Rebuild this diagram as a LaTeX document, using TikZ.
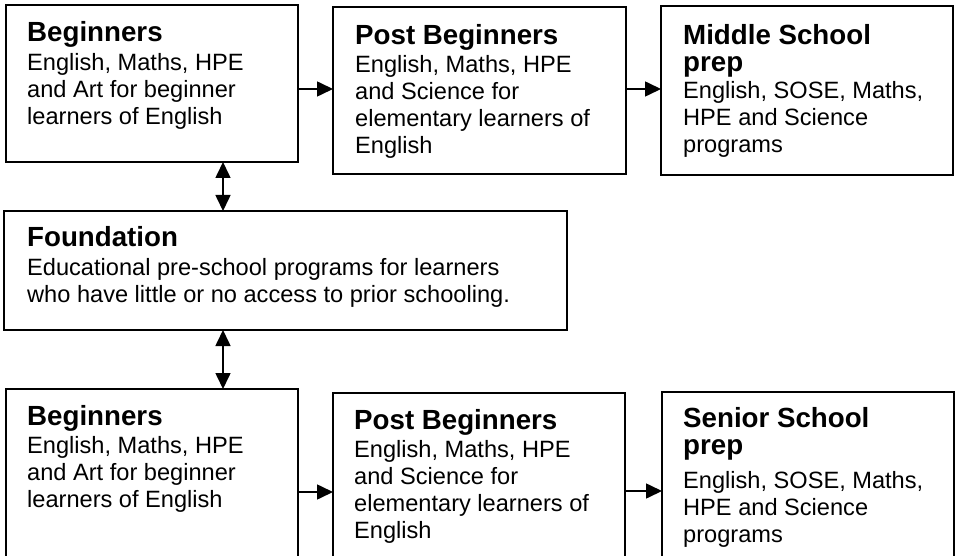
\documentclass[tikz,border=0pt]{standalone}
\usepackage{fontspec}
\setmainfont{Liberation Sans}
\usetikzlibrary{arrows.meta}
\tikzset{
  box/.style={draw, line width=2pt, inner sep=0pt, outer sep=0pt, anchor=north west},
  ttl/.style={anchor=base west, inner sep=0pt, font=\fontsize{27.7pt}{27.5pt}\selectfont\bfseries},
  bdy/.style={anchor=base west, inner sep=0pt, font=\fontsize{23.6pt}{27pt}\selectfont},
  arr/.style={line width=1.6pt, -{Triangle[length=16pt,width=15pt]}},
  darr/.style={line width=1.6pt, {Triangle[length=16pt,width=15pt]}-{Triangle[length=16pt,width=15pt]}},
}
\begin{document}
\begin{tikzpicture}[x=1pt,y=1pt]
\useasboundingbox (0,0) rectangle (955,-556);
\clip (0,0) rectangle (955,-556);
% boxes
\node[box, minimum width=292pt, minimum height=157pt] (B1) at (6,-5) {};
\node[box, minimum width=293pt, minimum height=167pt] (P1) at (333,-7) {};
\node[box, minimum width=292pt, minimum height=169pt] (M1) at (661,-6) {};
\node[box, minimum width=563pt, minimum height=119pt] (F) at (4,-211) {};
\node[box, minimum width=292pt, minimum height=175pt] (B2) at (6,-389) {};
\node[box, minimum width=292pt, minimum height=171pt] (P2) at (333,-393) {};
\node[box, minimum width=292pt, minimum height=172pt] (S2) at (662,-392) {};
% texts
\node[ttl] (B1t) at (27,-41.7) {Beginners};
\node[bdy] (B1b) at (27,-71) {\vtop{\hbox{English, Maths, HPE}\hbox{and Art for beginner}\hbox{learners of English}}};
\node[ttl] (P1t) at (355,-44.3) {Post Beginners};
\node[bdy] (P1b) at (355,-72.7) {\vtop{\hbox{English, Maths, HPE}\hbox{and Science for}\hbox{elementary learners of}\hbox{English}}};
\node[ttl] (M1t) at (683,-44.3) {\vtop{\hbox{Middle School}\hbox{prep}}};
\node[bdy] (M1b) at (683,-99) {\vtop{\hbox{English, SOSE, Maths,}\hbox{HPE and Science}\hbox{programs}}};
\node[ttl] (Ft) at (27,-246.7) {Foundation};
\node[bdy] (Fb) at (27,-275.7) {\vtop{\hbox{Educational pre-school programs for learners}\hbox{who have little or no access to prior schooling.}}};
\node[ttl] (B2t) at (27,-425) {Beginners};
\node[bdy] (B2b) at (27,-453.3) {\vtop{\hbox{English, Maths, HPE}\hbox{and Art for beginner}\hbox{learners of English}}};
\node[ttl] (P2t) at (354,-429.3) {Post Beginners};
\node[bdy] (P2b) at (354,-457.3) {\vtop{\hbox{English, Maths, HPE}\hbox{and Science for}\hbox{elementary learners of}\hbox{English}}};
\node[ttl] (S2t) at (683,-427.3) {\vtop{\hbox{Senior School}\hbox{prep}}};
\node[bdy] (S2b) at (683,-488.3) {\vtop{\hbox{English, SOSE, Maths,}\hbox{HPE and Science}\hbox{programs}}};
% connector helpers
\coordinate (r1) at (0,-89);
\coordinate (r2) at (0,-492);
\coordinate (r3) at (0,-491);
\coordinate (c1) at (223,0);
% connectors
\draw[arr] (B1.east |- r1) -- (P1.west |- r1);
\draw[arr] (P1.east |- r1) -- (M1.west |- r1);
\draw[darr] (B1.south -| c1) -- (F.north -| c1);
\draw[darr] (F.south -| c1) -- (B2.north -| c1);
\draw[arr] (B2.east |- r2) -- (P2.west |- r2);
\draw[arr] (P2.east |- r3) -- (S2.west |- r3);
\end{tikzpicture}
\end{document}
